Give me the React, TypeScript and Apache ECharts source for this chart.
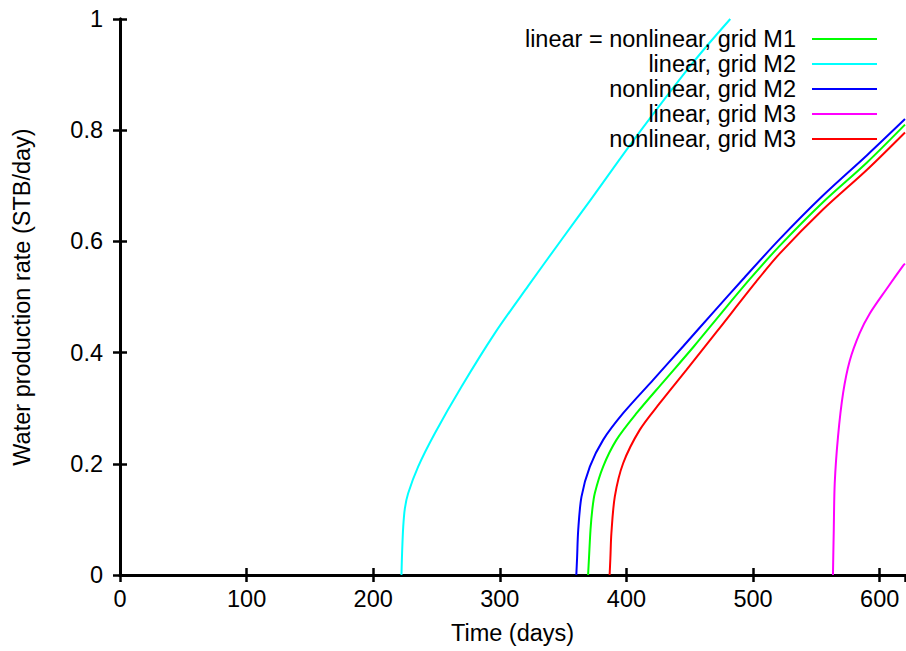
import React, { useEffect, useRef } from "react";
import * as echarts from "echarts";

const seriesNames = [
  "linear = nonlinear, grid M1",
  "linear, grid M2",
  "nonlinear, grid M2",
  "linear, grid M3",
  "nonlinear, grid M3",
];
const seriesColors = ["#00ff00", "#00ffff", "#0000ff", "#ff00ff", "#ff0000"];

// [time (days), water production rate (STB/day)]
const m1Data = [
  [369.7, 0], [370.4, 0.03], [371.6, 0.081], [373, 0.117], [375, 0.147],
  [381.6, 0.195], [392.1, 0.243], [408, 0.291], [429, 0.347], [453.2, 0.411],
  [475.3, 0.472], [497.4, 0.532], [521, 0.592], [555, 0.67], [590, 0.742], [620, 0.81],
];
const m2LinearData = [
  [222.3, 0], [222.8, 0.04], [223.7, 0.087], [225, 0.12], [227.6, 0.147],
  [235.5, 0.195], [248.7, 0.255], [269.8, 0.339], [296.1, 0.435], [322.4, 0.52],
  [348.7, 0.603], [372.4, 0.677], [405, 0.78], [452, 0.92], [482, 1.0],
];
const m2NonlinearData = [
  [360.4, 0], [361, 0.03], [361.9, 0.081], [364.5, 0.141], [371.1, 0.195],
  [381.6, 0.243], [397.4, 0.291], [421.1, 0.351], [444.7, 0.411], [468.4, 0.472],
  [492, 0.532], [521, 0.604], [555, 0.682], [590, 0.755], [620, 0.82],
];
const m3LinearData = [
  [563.1, 0], [563.4, 0.04], [563.7, 0.075], [564.5, 0.165], [567.1, 0.249],
  [571.1, 0.327], [576.3, 0.385], [584.2, 0.435], [592.1, 0.47], [605.3, 0.514],
  [618.4, 0.556], [620, 0.56],
];
const m3NonlinearData = [
  [386.7, 0], [387.3, 0.03], [388.1, 0.075], [390.8, 0.141], [397.4, 0.201],
  [410.5, 0.261], [426.3, 0.309], [447.4, 0.369], [471.8, 0.439], [502.6, 0.528],
  [521, 0.578], [555, 0.657], [590, 0.729], [620, 0.796],
];
const allData = [m1Data, m2LinearData, m2NonlinearData, m3LinearData, m3NonlinearData];

const xMin = 0;
const xMax = 620;
const xInterval = 100;
const yMin = 0;
const yMax = 1;
const yInterval = 0.2;

const FONT = "'Liberation Sans', Arial, Helvetica, sans-serif";
const FS = 23.5;

export default function App() {
  const ref = useRef<HTMLDivElement>(null);
  useEffect(() => {
    if (!ref.current) return;
    const chart = echarts.init(ref.current, null, { renderer: "svg" });
    const axisLine = { show: true, lineStyle: { color: "#000", width: 3 } };
    const axisTick = { show: true, inside: true, length: 7, lineStyle: { color: "#000", width: 2.5 } };
    chart.setOption({
      animation: false,
      backgroundColor: "#fff",
      grid: { left: 120, right: 1, top: 19, bottom: 76, containLabel: false },
      xAxis: [
        {
          type: "value", min: xMin, max: xMax, interval: xInterval, position: "bottom",
          axisLine, axisTick, splitLine: { show: false },
          axisLabel: { color: "#000", fontFamily: FONT, fontSize: FS, margin: 12, showMaxLabel: false },
          name: "Time (days)", nameLocation: "middle", nameGap: 46,
          nameTextStyle: { color: "#000", fontFamily: FONT, fontSize: FS },
        },
        {
          type: "value", min: xMin, max: xMax, interval: xInterval, position: "top",
          axisLine, axisTick, splitLine: { show: false }, axisLabel: { show: false },
        },
      ],
      yAxis: [
        {
          type: "value", min: yMin, max: yMax, interval: yInterval, position: "left",
          axisLine, axisTick, splitLine: { show: false },
          axisLabel: { color: "#000", fontFamily: FONT, fontSize: FS, margin: 17 },
          name: "Water production rate (STB/day)", nameLocation: "middle", nameGap: 86,
          nameTextStyle: { color: "#000", fontFamily: FONT, fontSize: FS },
        },
        {
          type: "value", min: yMin, max: yMax, interval: yInterval, position: "right",
          axisLine, axisTick, splitLine: { show: false }, axisLabel: { show: false },
        },
      ],
      legend: {
        orient: "vertical", align: "right", right: 29, top: 27, padding: 0,
        icon: "rect", itemWidth: 65, itemHeight: 2, itemGap: 1,
        textStyle: { color: "#000", fontFamily: FONT, fontSize: FS, padding: [0, 11, 0, 0] },
        data: seriesNames,
      },
      series: seriesNames.map((name, i) => ({
        name, type: "line", data: allData[i], xAxisIndex: 0, yAxisIndex: 0,
        showSymbol: false, symbol: "none", smooth: 0.3, clip: true,
        lineStyle: { color: seriesColors[i], width: 2 },
        itemStyle: { color: seriesColors[i] },
      })),
    });
    return () => chart.dispose();
  }, []);
  return <div ref={ref} style={{ position: "fixed", left: 0, top: 0, width: 906, height: 651 }} />;
}
